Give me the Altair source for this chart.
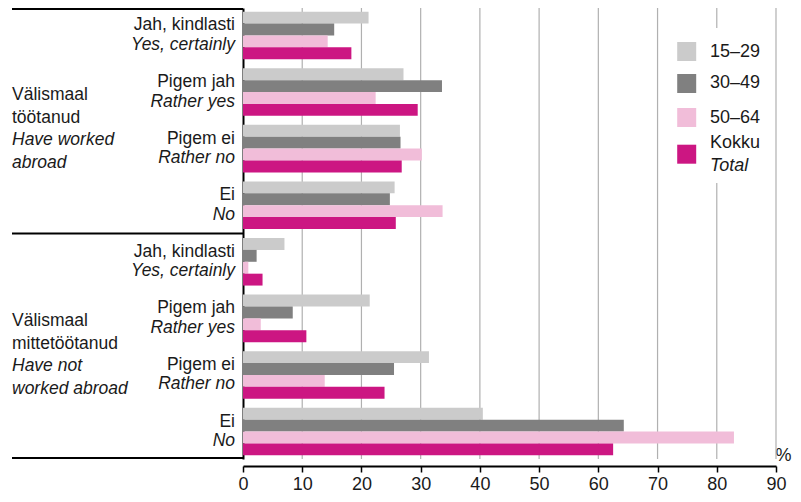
import altair as alt
import pandas as pd

# ---- data ----
series = ["15–29", "30–49", "50–64", "Kokku"]
colors = ["#cbcbcb", "#808080", "#f1bdd9", "#cc1682"]
answers_et = ["Jah, kindlasti", "Pigem jah", "Pigem ei", "Ei"]
answers_en = ["Yes, certainly", "Rather yes", "Rather no", "No"]
groups_et = ["Välismaal\ntöötanud", "Välismaal\nmittetöötanud"]
groups_en = ["Have worked\nabroad", "Have not\nworked abroad"]

worked = {
    "15–29": [21.2, 27.1, 26.5, 25.6],
    "30–49": [15.4, 33.6, 26.6, 24.8],
    "50–64": [14.3, 22.4, 30.2, 33.7],
    "Kokku": [18.3, 29.5, 26.8, 25.8],
}
not_worked = {
    "15–29": [7.0, 21.4, 31.4, 40.5],
    "30–49": [2.3, 8.4, 25.5, 64.3],
    "50–64": [0.9, 3.0, 13.8, 82.9],
    "Kokku": [3.3, 10.7, 23.9, 62.5],
}
ticks = list(range(0, 100, 10))

FONT = "Arial, Liberation Sans, sans-serif"
TXT = "#1a1a1a"

# ---- tables ----
keys = [f"g{g}_{i}" for g in range(2) for i in range(4)]
rows = []
for g, block in enumerate([worked, not_worked]):
    for s in series:
        for i, v in enumerate(block[s]):
            rows.append({"key": f"g{g}_{i}", "series": s, "value": v})
bars_df = pd.DataFrame(rows)

lab_df = pd.DataFrame(
    [{"key": f"g{g}_{i}", "et": answers_et[i], "en": answers_en[i]} for g in range(2) for i in range(4)]
)
grp_df = pd.DataFrame(
    [{"key": f"g{g}_2", "et": groups_et[g], "en": groups_en[g]} for g in range(2)]
)
sep_df = pd.DataFrame([{"key": "g1_0"}])
grid_df = pd.DataFrame({"v": ticks[1:]})

W, H = 533, 451

yscale = alt.Scale(domain=keys, paddingInner=0.16, paddingOuter=0.065)
yaxis = alt.Axis(labels=False, ticks=False, domain=True, domainColor="black",
                 domainWidth=2, title=None, grid=False)
xscale = alt.Scale(domain=[0, 90], nice=False, zero=True)
xaxis = alt.Axis(values=ticks, grid=False, domainColor="black", domainWidth=2,
                 tickColor="black", tickWidth=1.5, tickSize=6, offset=7,
                 labelFontSize=18, labelFont=FONT, labelColor=TXT, labelPadding=3,
                 labelFlush=False, title="%", titleX=540, titleY=-11,
                 titleAlign="center", titleBaseline="middle", titleFontWeight="normal",
                 titleFontSize=18, titleFont=FONT, titleColor=TXT)
cscale = alt.Scale(domain=series, range=colors)


def Y(**kw):
    return alt.Y("key:N", scale=yscale, axis=yaxis, sort=keys, **kw)


grid = alt.Chart(grid_df).mark_rule(color="#b0b0b0", strokeWidth=1.2).encode(
    x=alt.X("v:Q", scale=xscale, axis=xaxis)
)

legend_bg = alt.Chart(grid_df).mark_rect(color="white").encode(
    x=alt.value(425), x2=alt.value(527), y=alt.value(20), y2=alt.value(175)
)

bars = alt.Chart(bars_df).mark_bar(strokeWidth=0).encode(
    x=alt.X("value:Q", scale=xscale, axis=xaxis),
    y=Y(),
    yOffset=alt.YOffset("series:N", sort=series,
                        scale=alt.Scale(domain=series, paddingInner=0, paddingOuter=0)),
    color=alt.Color("series:N", scale=cscale, legend=None),
)

frame_top = alt.Chart(sep_df).mark_rule(color="black", strokeWidth=2).encode(
    x=alt.value(-231), x2=alt.value(0), y=alt.value(1)
)
frame_bot = alt.Chart(sep_df).mark_rule(color="black", strokeWidth=2).encode(
    x=alt.value(-231), x2=alt.value(0), y=alt.value(H - 1)
)
sep = alt.Chart(sep_df).mark_rule(color="black", strokeWidth=2, yOffset=-4.5).encode(
    x=alt.value(-231), x2=alt.value(0), y=Y(bandPosition=0)
)

cat_et = alt.Chart(lab_df).mark_text(align="right", baseline="middle", dy=-10,
                                     fontSize=17.5, font=FONT, color=TXT).encode(
    x=alt.value(-8), y=Y(), text="et:N")
cat_en = alt.Chart(lab_df).mark_text(align="right", baseline="middle", dy=9.5,
                                     fontSize=17.5, font=FONT, fontStyle="italic",
                                     color=TXT).encode(
    x=alt.value(-8), y=Y(), text="en:N")

grp_et = alt.Chart(grp_df).mark_text(align="left", baseline="middle", dy=-30,
                                     lineBreak="\n", lineHeight=22.7,
                                     fontSize=17.5, font=FONT, color=TXT).encode(
    x=alt.value(-231), y=Y(bandPosition=0), text="et:N")
grp_en = alt.Chart(grp_df).mark_text(align="left", baseline="middle", dy=15,
                                     lineBreak="\n", lineHeight=22.7,
                                     fontSize=17.5, font=FONT, fontStyle="italic",
                                     color=TXT).encode(
    x=alt.value(-231), y=Y(bandPosition=0), text="en:N")

# manual legend
leg_sym_y = [43.5, 75.5, 109.5, 146.2]
leg_txt_y = [43.7, 75.3, 110.3, 135.3]
leg_layers = []
for s, sy, ty in zip(series, leg_sym_y, leg_txt_y):
    leg_layers.append(
        alt.Chart(sep_df).mark_square(size=19 * 19, opacity=1, strokeWidth=0).encode(
            x=alt.value(443.7), y=alt.value(sy),
            color=alt.ColorDatum(s, type="nominal"))
    )
    leg_layers.append(
        alt.Chart(sep_df).mark_text(align="left", baseline="middle", fontSize=18,
                                    font=FONT, color=TXT, text=s).encode(
            x=alt.value(467), y=alt.value(ty))
    )
leg_layers.append(
    alt.Chart(sep_df).mark_text(align="left", baseline="middle", fontSize=18,
                                font=FONT, fontStyle="italic", color=TXT,
                                text="Total").encode(
        x=alt.value(467), y=alt.value(158))
)

chart = alt.layer(
    grid, legend_bg, bars, frame_top, frame_bot, sep,
    cat_et, cat_en, grp_et, grp_en, *leg_layers
).properties(
    width=W, height=H,
    autosize=alt.AutoSizeParams(type="none"),
    padding={"left": 235, "top": 0, "right": 17, "bottom": 35},
).configure_view(stroke=None)

chart.save("out.html", embed_options={"renderer": "svg", "actions": False})
